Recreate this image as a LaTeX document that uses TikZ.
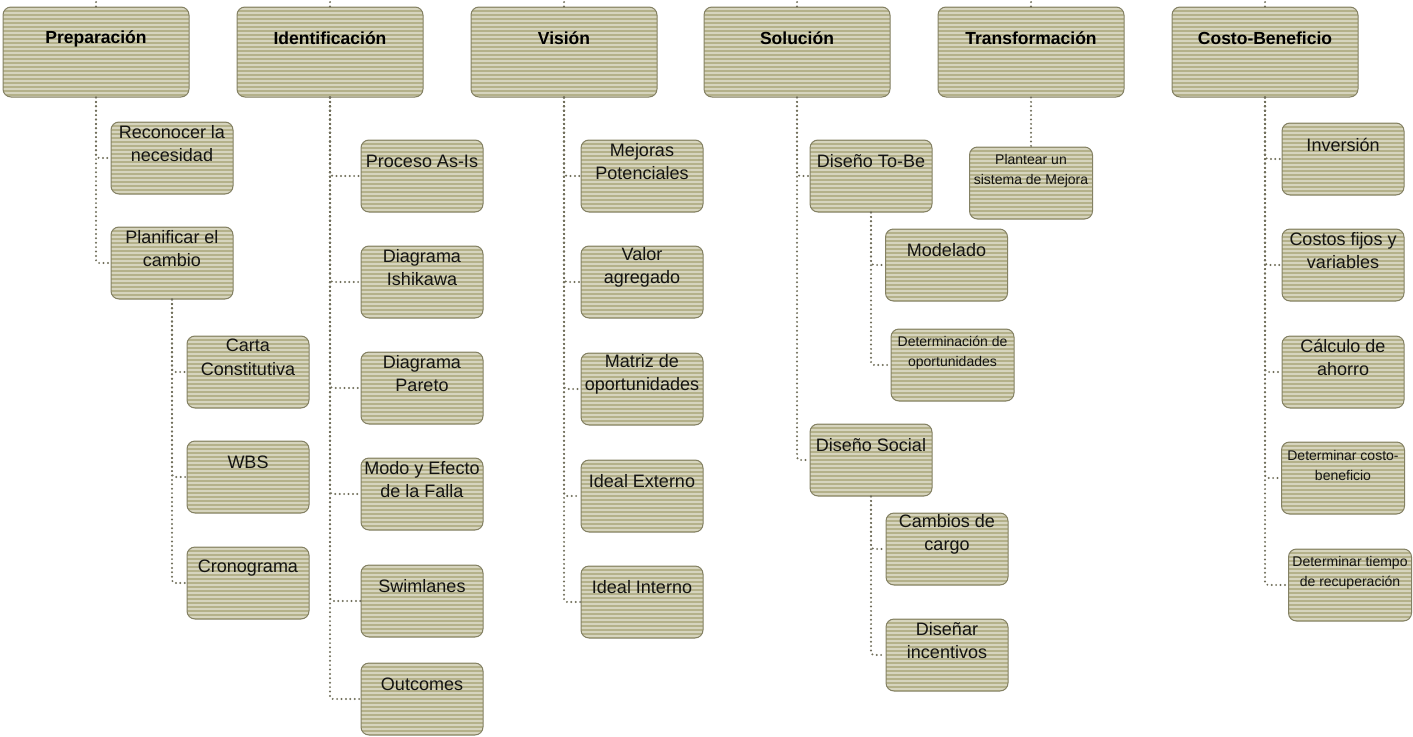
\documentclass[tikz,border=0pt]{standalone}
\usepackage{fontspec}
\setmainfont{Liberation Sans}
\definecolor{base}{RGB}{180,177,138}
\definecolor{stripe}{RGB}{214,212,190}
\definecolor{edge}{RGB}{132,129,100}
\definecolor{dotcol}{RGB}{112,110,90}
\definecolor{ink}{RGB}{20,20,18}
\tikzset{
  box/.style={rectangle, rounded corners=8pt, draw=edge, line width=1pt,
    fill=base, inner sep=0pt,
    path picture={
      \foreach \k in {0,...,24}
        \draw[stripe, line width=1.1pt]
          ([yshift=-\k*4pt-2pt]path picture bounding box.north west) -- ++(200pt,0pt);
    }},
  topbox/.style={box, minimum width=186pt, minimum height=90pt,
    label={[toptext]north:#1}},
  toptext/.style={anchor=center, yshift=-32pt,
    font=\bfseries\fontsize{17.5}{20}\selectfont, text=black},
  kid/.style={box, minimum width=122pt, minimum height=72pt,
    label={[kidtext]north:#1}},
  kidtext/.style={anchor=center, yshift=-22pt, align=center,
    font=\fontsize{18}{23.5}\selectfont, text=ink},
  smallkid/.style={box, minimum width=123pt, minimum height=72pt,
    label={[smalltext]north:#1}},
  smalltext/.style={anchor=center, yshift=-24pt, align=center,
    font=\fontsize{14}{20}\selectfont, text=ink},
  conn/.style={draw=dotcol, line width=2.2pt, line cap=round,
    dash pattern=on 0pt off 4.4pt, rounded corners=3pt},
}
\begin{document}
\begin{tikzpicture}[x=1pt, y=-1pt]
\useasboundingbox (0,0) rectangle (1413,736);

% phases
\node[topbox=Preparación]     (prep)  at (96,52)   {};
\node[topbox=Identificación]  (iden)  at (330,52)  {};
\node[topbox=Visión]          (vis)   at (564,52)  {};
\node[topbox=Solución]        (sol)   at (797,52)  {};
\node[topbox=Transformación]  (trans) at (1031,52) {};
\node[topbox=Costo-Beneficio] (cost)  at (1265,52) {};

% incoming stubs above the phases
\coordinate (prep-up)  at (96,0);
\coordinate (iden-up)  at (330,0);
\coordinate (vis-up)   at (564,0);
\coordinate (sol-up)   at (797,0);
\coordinate (trans-up) at (1031,0);
\coordinate (cost-up)  at (1265,0);

% Preparación
\node[kid={Reconocer la\\necesidad}] (rec)   at (172,158) {};
\node[kid={Planificar el\\cambio}]   (plan)  at (172,263) {};
\node[kid={Carta\\Constitutiva}]     (carta) at (248,372) {};
\node[kid={WBS}]                     (wbs)   at (248,477) {};
\node[kid={Cronograma}]              (crono) at (248,583) {};

% Identificación
\node[kid={Proceso As-Is}]                (proc)   at (422,176) {};
\node[kid={Diagrama\\Ishikawa}]           (ishi)   at (422,282) {};
\node[kid={Diagrama\\Pareto}]             (pareto) at (422,388) {};
\node[kid={Modo y Efecto\\de la Falla}]   (modo)   at (422,494) {};
\node[kid={Swimlanes}]                    (swim)   at (422,601) {};
\node[kid={Outcomes}]                     (outc)   at (422,699) {};

% Visión
\node[kid={Mejoras\\Potenciales}]     (mej)    at (642,176) {};
\node[kid={Valor\\agregado}]          (valor)  at (642,282) {};
\node[kid={Matriz de\\oportunidades}] (matriz) at (642,389) {};
\node[kid={Ideal Externo}]            (iext)   at (642,496) {};
\node[kid={Ideal Interno}]            (iint)   at (642,602) {};

% Solución
\node[kid={Diseño To-Be}]            (tobe)    at (871,176)   {};
\node[kid={Diseño Social}]           (social)  at (871,460)   {};
\node[kid={Modelado}]                (model)   at (946.5,265) {};
\node[smallkid={Determinación de\\oportunidades}] (deter) at (952.5,365) {};
\node[kid={Cambios de\\cargo}]       (cambios) at (947,549)   {};
\node[kid={Diseñar\\incentivos}]     (incent)  at (947,655)   {};

% Transformación
\node[smallkid={Plantear un\\sistema de Mejora}] (plant) at (1031,183) {};

% Costo-Beneficio
\node[kid={Inversión}]                 (inv)    at (1343,159) {};
\node[kid={Costos fijos y\\variables}] (costos) at (1343,265) {};
\node[kid={Cálculo de\\ahorro}]        (calc)   at (1343,372) {};
\node[smallkid={Determinar costo-\\beneficio}]         (dcb) at (1343,478) {};
\node[smallkid={Determinar tiempo\\de recuperación}]   (dtr) at (1350,585) {};

% connectors
\foreach \p in {prep,iden,vis,sol,trans,cost}
  \draw[conn] (\p.north) -- (\p-up);

\foreach \c in {rec,plan}            \draw[conn] (prep.south) |- (\c.west);
\foreach \c in {carta,wbs,crono}     \draw[conn] (plan.south) |- (\c.west);
\foreach \c in {proc,ishi,pareto,modo,swim,outc} \draw[conn] (iden.south) |- (\c.west);
\foreach \c in {mej,valor,matriz,iext,iint}      \draw[conn] (vis.south) |- (\c.west);
\foreach \c in {tobe,social}         \draw[conn] (sol.south) |- (\c.west);
\foreach \c in {model,deter}         \draw[conn] (tobe.south) |- (\c.west);
\foreach \c in {cambios,incent}      \draw[conn] (social.south) |- (\c.west);
\draw[conn] (trans.south) -- (plant.north);
\foreach \c in {inv,costos,calc,dcb,dtr} \draw[conn] (cost.south) |- (\c.west);
\end{tikzpicture}
\end{document}
